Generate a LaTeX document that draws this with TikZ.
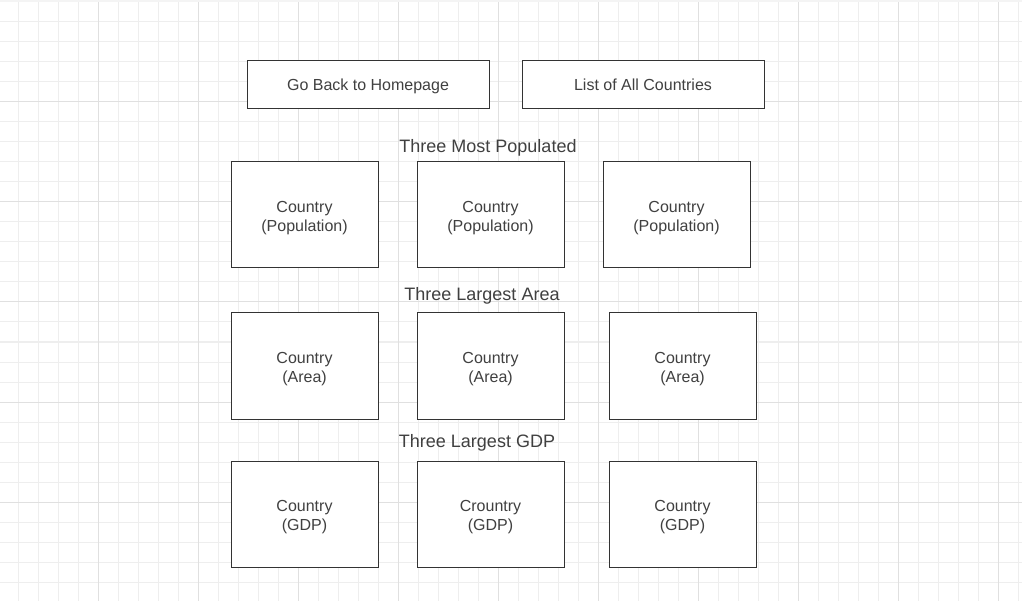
\documentclass[tikz,border=0pt]{standalone}
\usepackage{fontspec}
\setmainfont{Liberation Sans}
\definecolor{boxline}{HTML}{333333}
\definecolor{boxtext}{HTML}{404040}
\definecolor{gridminor}{HTML}{EEEEEE}
\definecolor{gridmajor}{HTML}{E0E0E0}
\tikzset{
    pagebox/.style={rectangle, draw=boxline, fill=white, line width=1pt, text=boxtext, align=center, font=\fontsize{16}{19}\selectfont, inner sep=0pt},
    button/.style={pagebox, minimum width=242pt, minimum height=48pt, text height=14.7pt, text depth=3.4pt},
    country/.style={pagebox, minimum width=147pt, minimum height=106pt, text height=35.7pt},
    heading/.style={text=boxtext, font=\fontsize{18}{21}\selectfont, inner sep=0pt}
}
\begin{document}
\begin{tikzpicture}[x=1pt, y=-1pt]
    \useasboundingbox (0,0) rectangle (1022,601);
    % Grid
    \fill[white] (0,0) rectangle (1022,601);
    \foreach \gx in {18,38,...,1018} {
        \draw[gridminor, line width=1pt] (\gx,0) -- (\gx,601);
    }
    \foreach \gy in {22,42,...,600} {
        \draw[gridminor, line width=1pt] (0,\gy) -- (1022,\gy);
    }
    \foreach \gx in {98,198,...,998} {
        \draw[gridmajor, line width=1pt] (\gx,0) -- (\gx,601);
    }
    \foreach \gy in {102,202,...,502} {
        \draw[gridmajor, line width=1pt] (0,\gy) -- (1022,\gy);
    }
    \draw[gridmajor!90!black!20, line width=2pt] (0,1) -- (1022,1);

    % Buttons
    \node [button] (home) at (368,85) {Go Back to Homepage};
    \node [button] (list) at (643,85) {List of All Countries};

    % Population
    \node [heading] (popTitle) at (488,148) {Three Most Populated};
    \node [country] (pop1) at (304.5,215) {Country\\(Population)};
    \node [country] (pop2) at (490.5,215) {Country\\(Population)};
    \node [country] (pop3) at (676.5,215) {Country\\(Population)};

    % Area
    \node [heading] (areaTitle) at (482,296) {Three Largest Area};
    \node [country] (area1) at (304.5,366) {Country\\(Area)};
    \node [country] (area2) at (490.5,366) {Country\\(Area)};
    \node [country] (area3) at (682.5,366) {Country\\(Area)};

    % GDP
    \node [heading] (gdpTitle) at (477,443) {Three Largest GDP};
    \node [country] (gdp1) at (304.5,514) {Country\\(GDP)};
    \node [country] (gdp2) at (490.5,514) {Crountry\\(GDP)};
    \node [country] (gdp3) at (682.5,514) {Country\\(GDP)};
\end{tikzpicture}
\end{document}
